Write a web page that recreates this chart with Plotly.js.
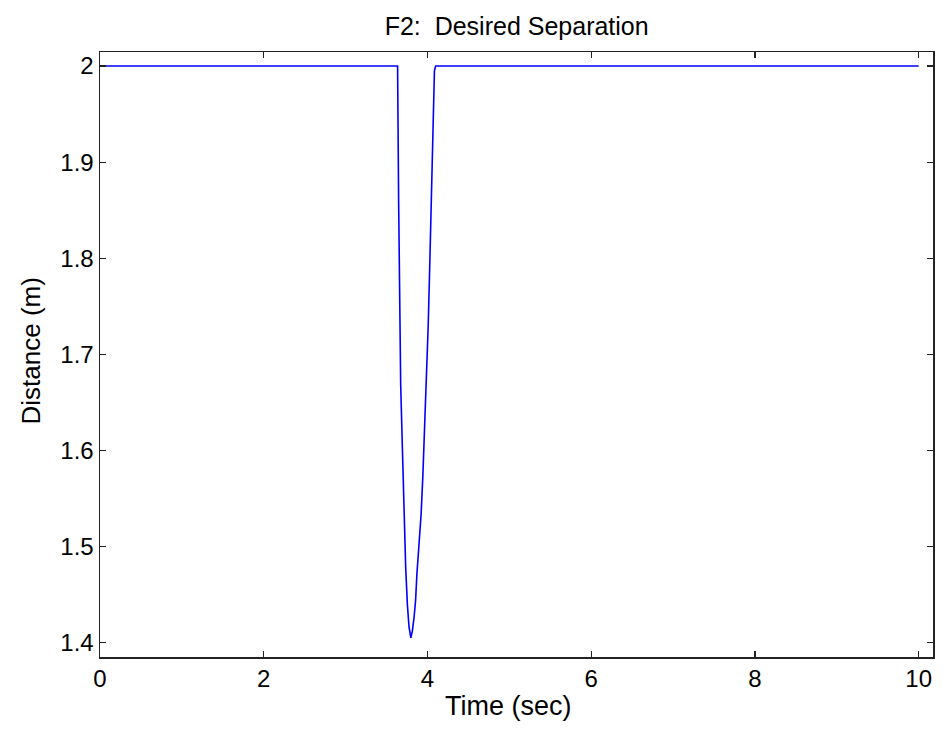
<!DOCTYPE html>
<html>
<head>
<meta charset="utf-8">
<script src="https://cdn.plot.ly/plotly-3.0.1.min.js"></script>
<style>html,body{margin:0;padding:0;background:#fff;}#chart{width:948px;height:729px;}</style>
</head>
<body>
<div id="chart"></div>
<script>
var timeSec = [0, 3.635, 3.648, 3.673, 3.694, 3.714, 3.734, 3.755, 3.775, 3.797, 3.815, 3.836, 3.855, 3.870, 3.893, 3.922, 3.944, 3.965, 3.987, 4.009, 4.029, 4.048, 4.072, 4.085, 4.10, 10];
var distance = [2.0, 2.0, 1.857, 1.668, 1.601, 1.529, 1.478, 1.439, 1.416, 1.405, 1.412, 1.426, 1.444, 1.470, 1.497, 1.533, 1.574, 1.620, 1.672, 1.730, 1.796, 1.871, 1.950, 1.995, 2.0, 2.0];
var xTicks = [0, 2, 4, 6, 8, 10];
var yTicks = [1.4, 1.5, 1.6, 1.7, 1.8, 1.9, 2];
var yTickText = ['1.4', '1.5', '1.6', '1.7', '1.8', '1.9', '2'];
var titleText = 'F2:\u00a0 Desired Separation';
var xTitle = 'Time (sec)';
var yTitle = 'Distance (m)';

var font = 'Liberation Sans, Arial, Helvetica, sans-serif';
Plotly.newPlot('chart', [{
  x: timeSec, y: distance, type: 'scatter', mode: 'lines',
  line: {color: '#0000ff', width: 1.6}, hoverinfo: 'none'
}], {
  width: 948, height: 729,
  margin: {l: 100, r: 15, t: 52, b: 72},
  paper_bgcolor: '#ffffff', plot_bgcolor: '#ffffff',
  showlegend: false,
  title: {text: titleText, x: 0.545, xanchor: 'center', y: 0.964, yanchor: 'middle',
          font: {family: font, size: 25, color: '#000'}},
  xaxis: {
    range: [0, 10.175], tickvals: xTicks, ticktext: xTicks.map(String),
    ticks: 'inside', ticklen: 6, tickcolor: '#222', tickwidth: 1.2,
    showline: true, linecolor: '#222', linewidth: 1.5, mirror: 'ticks',
    showgrid: false, zeroline: false,
    tickfont: {family: font, size: 24, color: '#000'}
  },
  yaxis: {
    range: [1.385, 2.0146], tickvals: yTicks, ticktext: yTickText,
    ticks: 'inside', ticklen: 6, tickcolor: '#222', tickwidth: 1.2,
    showline: true, linecolor: '#222', linewidth: 1.5, mirror: 'ticks',
    showgrid: false, zeroline: false,
    tickfont: {family: font, size: 24, color: '#000'}
  },
  annotations: [
    {text: xTitle, xref: 'paper', yref: 'paper', x: 0.5, y: 0, xshift: -8.5, yshift: -49,
     xanchor: 'center', yanchor: 'middle', showarrow: false,
     font: {family: font, size: 27, color: '#000'}},
    {text: yTitle, xref: 'paper', yref: 'paper', x: 0, y: 0.5, xshift: -70, yshift: 3,
     xanchor: 'center', yanchor: 'middle', showarrow: false, textangle: -90,
     font: {family: font, size: 26, color: '#000'}}
  ]
}, {staticPlot: true});
</script>
</body>
</html>
